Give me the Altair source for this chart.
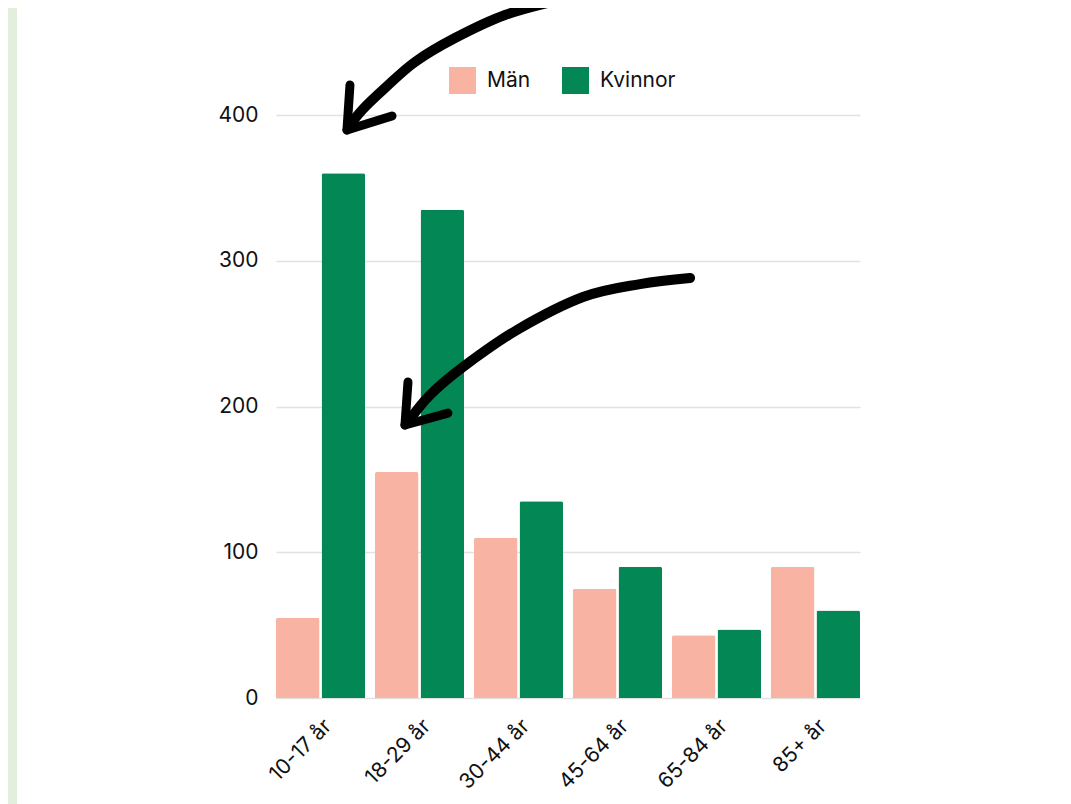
import altair as alt
import pandas as pd

# ---- data ----
categories = ["10-17 år", "18-29 år", "30-44 år", "45-64 år", "65-84 år", "85+ år"]
man_values = [55, 155, 110, 75, 43, 90]
kvinnor_values = [360, 335, 135, 90, 47, 60]
series_names = ["Män", "Kvinnor"]
series_colors = ["#f9b3a3", "#038855"]
y_ticks = [0, 100, 200, 300, 400]

# ---- hand-drawn arrow annotations (x in category units 0..6, y in data units) ----
arrow1_shaft_x = [2.918, 2.353, 1.839, 1.428, 1.120, 0.884, 0.740]
arrow1_shaft_y = [478.9, 468.6, 452.8, 436.4, 418.5, 403.4, 391.1]
arrow1_barb1_x = [0.760, 0.729]
arrow1_barb1_y = [420.6, 389.7]
arrow1_barb2_x = [0.729, 1.192]
arrow1_barb2_y = [389.7, 399.3]

arrow2_shaft_x = [4.254, 3.740, 3.154, 2.476, 1.921, 1.582, 1.356]
arrow2_shaft_y = [288.2, 284.0, 275.1, 252.5, 227.1, 207.9, 189.4]
arrow2_barb1_x = [1.356, 1.325]
arrow2_barb1_y = [216.8, 187.3]
arrow2_barb2_x = [1.325, 1.767]
arrow2_barb2_y = [187.3, 195.5]

# ---- tables ----
rows = []
for c, m, k in zip(categories, man_values, kvinnor_values):
    rows.append({"Ålder": c, "Kön": "Män", "Antal": m})
    rows.append({"Ålder": c, "Kön": "Kvinnor", "Antal": k})
bars_df = pd.DataFrame(rows)

shaft_rows, barb_rows = [], []
for name, (xs, ys) in {"a1s": (arrow1_shaft_x, arrow1_shaft_y),
                       "a2s": (arrow2_shaft_x, arrow2_shaft_y)}.items():
    for i, (xv, yv) in enumerate(zip(xs, ys)):
        shaft_rows.append({"part": name, "i": i, "ax": xv, "ay": yv})
for name, (xs, ys) in {"a1b1": (arrow1_barb1_x, arrow1_barb1_y),
                       "a1b2": (arrow1_barb2_x, arrow1_barb2_y),
                       "a2b1": (arrow2_barb1_x, arrow2_barb1_y),
                       "a2b2": (arrow2_barb2_x, arrow2_barb2_y)}.items():
    for i, (xv, yv) in enumerate(zip(xs, ys)):
        barb_rows.append({"part": name, "i": i, "ax": xv, "ay": yv})
shaft_df = pd.DataFrame(shaft_rows)
barb_df = pd.DataFrame(barb_rows)

FONT = "Inter"
TEXT = "#111111"

# light green frame strip on the left (page background)
strip = alt.Chart(pd.DataFrame({"k": [0]})).mark_rect(color="#e1efdc").encode(
    x=alt.value(-270), x2=alt.value(-259), y=alt.value(-115), y2=alt.value(720)
)

bars = alt.Chart(bars_df).mark_bar(cornerRadiusTopLeft=2, cornerRadiusTopRight=2).encode(
    x=alt.X("Ålder:N", sort=categories, title=None,
            scale=alt.Scale(paddingInner=0.1, paddingOuter=0),
            axis=alt.Axis(labelAngle=-45, labelFontSize=21, labelFont=FONT,
                          labelColor=TEXT, ticks=False, domain=False,
                          labelPadding=17, grid=False)),
    xOffset=alt.XOffset("Kön:N", sort=series_names, scale=alt.Scale(paddingInner=0.045)),
    y=alt.Y("Antal:Q", title=None,
            scale=alt.Scale(domain=[0, 400], nice=False),
            axis=alt.Axis(values=y_ticks, labelFontSize=21, labelFont=FONT,
                          labelColor=TEXT, ticks=False, domain=False,
                          labelPadding=18, gridColor="#e2e2e2", gridWidth=1.5)),
    color=alt.Color("Kön:N", sort=series_names,
                    scale=alt.Scale(domain=series_names, range=series_colors),
                    legend=alt.Legend(title=None, orient="none", direction="horizontal",
                                      legendX=173, legendY=-48, symbolType="square",
                                      symbolSize=729, symbolStrokeWidth=0,
                                      labelFontSize=21, labelFont=FONT, labelColor=TEXT,
                                      labelOffset=11, columnPadding=31, padding=0)),
)

ax_x = alt.X("ax:Q", scale=alt.Scale(domain=[0, 6], nice=False, zero=False), axis=None)
ax_y = alt.Y("ay:Q")

shafts = alt.Chart(shaft_df).mark_line(
    color="black", strokeWidth=10, strokeCap="round", strokeJoin="round",
    interpolate="cardinal", clip=False
).encode(x=ax_x, y=ax_y, detail="part:N", order=alt.Order("i:Q"))

barbs = alt.Chart(barb_df).mark_line(
    color="black", strokeWidth=9, strokeCap="round", strokeJoin="round", clip=False
).encode(x=ax_x, y=ax_y, detail="part:N", order=alt.Order("i:Q"))

chart = alt.layer(strip, bars, shafts, barbs).resolve_scale(x="independent").properties(
    width=584, height=583,
    padding={"left": 268, "top": 107, "right": 203, "bottom": 106},
    autosize=alt.AutoSizeParams(type="none"),
    background="white",
).configure_view(stroke=None)

chart.save("out.html", embed_options={"renderer": "svg", "actions": False})
